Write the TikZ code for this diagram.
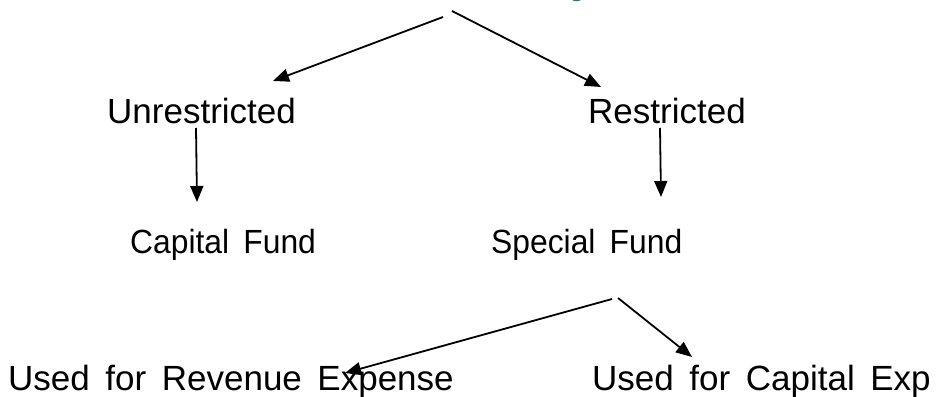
\documentclass[tikz,border=0pt]{standalone}
\usepackage{fontspec}
\setmainfont[WordSpace=1.6]{Liberation Sans}
\usetikzlibrary{arrows.meta}
\definecolor{titleteal}{RGB}{30,118,150}
\begin{document}
\begin{tikzpicture}[x=1pt,y=-1pt,
  lbl/.style={anchor=base west,inner sep=0pt,font=\fontsize{35}{42}\selectfont},
  narrow/.style={lbl,font=\fontsize{33.5}{40}\selectfont\addfontfeatures{FakeStretch=0.95}},
  link/.style={line width=1.8pt,-{Triangle[length=16pt,width=13pt]}}]
\useasboundingbox (0,0) rectangle (944,396);
\clip (0,0) rectangle (944,396);
% heading above the tree (only its lowest part lies inside the page)
\node[anchor=base,inner sep=0pt,text=titleteal,font=\fontsize{30}{36}\selectfont] (head) at (577,-4) {g};
% tree labels
\node[lbl]    (unres) at (107,123) {Unrestricted};
\node[lbl]    (res)   at (588,123) {Restricted};
\node[narrow] (capf)  at (130,253) {Capital Fund};
\node[narrow] (spf)   at (491,253) {Special Fund};
\node[lbl]    (rev)   at (8,390)   {Used for Revenue Expense};
\node[lbl]    (cap)   at (592,390) {Used for Capital Exp};
% connector ends
\coordinate (rootL) at (443,17);
\coordinate (rootR) at (452,11);
\coordinate (unresTip) at (273,81);
\coordinate (resTip) at (601,87);
\coordinate (unresFoot) at (196,128);
\coordinate (capfTip) at (197,202);
\coordinate (resFoot) at (660,128);
\coordinate (spfTip) at (661,197);
\coordinate (spfFootL) at (612,299);
\coordinate (spfFootR) at (618,298);
\coordinate (revTip) at (345,373);
\coordinate (capTip) at (692,357);
% connectors
\draw[link] (rootL) -- (unresTip);
\draw[link] (rootR) -- (resTip);
\draw[link] (unresFoot) -- (capfTip);
\draw[link] (resFoot) -- (spfTip);
\draw[link] (spfFootL) -- (revTip);
\draw[link] (spfFootR) -- (capTip);
\end{tikzpicture}
\end{document}
